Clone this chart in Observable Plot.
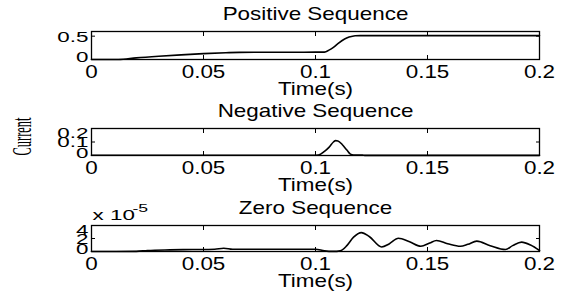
<!DOCTYPE html>
<html><head><meta charset="utf-8">
<script src="https://cdn.jsdelivr.net/npm/d3@7"></script>
<script src="https://cdn.jsdelivr.net/npm/@observablehq/plot@0.6"></script>
<style>
body{margin:0;background:#fff;}
#chart{position:relative;width:566px;height:296px;overflow:hidden;background:#fff;}
.panel{position:absolute;left:0;}
</style></head><body><div id="chart"></div>
<script>
// ---- data ----
const timeTicks = [0, 0.05, 0.1, 0.15, 0.2];
const titles = ["Positive Sequence", "Negative Sequence", "Zero Sequence"];
const xLabel = "Time(s)";
const yLabel = "Current";
const zeroExponent = ["x 10", "-5"];

const posTime    = [0, 0.012, 0.02, 0.03, 0.04, 0.05, 0.06, 0.066, 0.08, 0.09, 0.1, 0.104, 0.106, 0.108, 0.11, 0.113, 0.115, 0.1177, 0.12, 0.15, 0.2];
const posCurrent = [0, 0, 0.035, 0.07, 0.1, 0.125, 0.145, 0.153, 0.155, 0.156, 0.157, 0.158, 0.2, 0.26, 0.34, 0.44, 0.48, 0.51, 0.512, 0.512, 0.512];
const posYTicks  = [0, 0.5];

const negTime    = [0, 0.1, 0.1013, 0.104, 0.106, 0.108, 0.109, 0.110, 0.112, 0.114, 0.1156, 0.117, 0.121, 0.122, 0.2];
const negCurrent = [0.002, 0.002, 0.003, 0.03, 0.06, 0.1, 0.11, 0.108, 0.08, 0.04, 0.01, 0.004, 0.003, 0.001, 0.001];
const negYTicks  = [0, 0.1, 0.2];

// zero sequence in units of 1e-5
const zeroTime    = [0, 0.02, 0.025, 0.035, 0.045, 0.055, 0.059, 0.063, 0.075, 0.09, 0.1, 0.104, 0.108, 0.111, 0.114, 0.117, 0.1205, 0.124, 0.1295, 0.133, 0.137, 0.142, 0.147, 0.151, 0.154, 0.159, 0.1647, 0.168, 0.172, 0.178, 0.1848, 0.188, 0.192, 0.196, 0.2];
const zeroCurrent = [0, 0.02, 0.15, 0.25, 0.3, 0.35, 0.5, 0.35, 0.35, 0.35, 0.35, 0.1, 0.02, 0.1, 0.9, 2.2, 2.9, 2.3, 0.7, 1.2, 2.05, 1.5, 0.8, 1.3, 1.7, 1.2, 0.8, 1.1, 1.6, 0.9, 0.3, 0.9, 1.45, 1.0, 0.15];
const zeroYTicks  = [0, 2, 4];

// ---- drawing ----
const FONT = "'Liberation Sans', Arial, Helvetica, sans-serif";
const SERIF = "'Liberation Serif', 'Times New Roman', serif";
const chart = document.getElementById("chart");
const fmt = d => String(d);

function panel({time, values, yDomain, yTicks, topTickAtEdge, title, top, height, mTop, mBottom, extra = []}) {
  const data = time.map((t, i) => ({t, v: values[i]}));
  const bottomTick = yTicks.slice(0, 1);
  const middle = topTickAtEdge ? yTicks.slice(1, -1) : yTicks.slice(1);
  const edge = topTickAtEdge ? yTicks.slice(-1) : [];
  const yt = {frameAnchor: "left", textAnchor: "end", dx: -3, fontSize: 14};
  const svg = Plot.plot({
    width: 566, height,
    marginLeft: 91, marginRight: 27, marginTop: mTop, marginBottom: mBottom,
    style: {fontFamily: FONT, fontSize: "19px", color: "#000", background: "transparent", overflow: "visible"},
    x: {domain: [0, 0.2], label: null},
    y: {domain: yDomain, label: null},
    marks: [
      Plot.line(data, {x: "t", y: "v", stroke: "#000", strokeWidth: 1.6, curve: "monotone-x"}),
      Plot.frame({stroke: "#000", strokeWidth: 1.3}),
      Plot.axisX(timeTicks, {anchor: "bottom", tickSize: -4, tickPadding: 9, tickFormat: fmt, label: null, fontSize: 19}),
      Plot.axisX(timeTicks, {anchor: "top", tickSize: -4, tickFormat: () => "", label: null}),
      Plot.axisY(yTicks, {anchor: "left", tickSize: -4, tickFormat: () => "", label: null}),
      Plot.axisY(yTicks, {anchor: "right", tickSize: -4, tickFormat: () => "", label: null}),
      Plot.text(bottomTick, {y: d => d, text: fmt, ...yt, lineAnchor: "middle", dy: -2}),
      Plot.text(middle, {y: d => d, text: fmt, ...yt, lineAnchor: "middle", dy: 1}),
      Plot.text(edge, {y: d => d, text: fmt, ...yt, lineAnchor: "top"}),
      Plot.text([title], {text: d => d, frameAnchor: "top", lineAnchor: "middle", dy: -18, fontSize: 19}),
      Plot.text([xLabel], {text: d => d, frameAnchor: "bottom", lineAnchor: "middle", dy: 29, fontSize: 19}),
      ...extra
    ]
  });
  svg.classList.add("panel");
  svg.style.top = top + "px";
  chart.appendChild(svg);
  svg.querySelectorAll("text").forEach(t => {
    const L = t.getComputedTextLength();
    if (!(L > 0)) return;
    const fs = parseFloat(getComputedStyle(t).fontSize);
    let target;
    if (t.textContent === yLabel) target = 38;
    else if (fs < 16) target = L * 1.6;
    else target = L * 1.18;
    t.setAttribute("textLength", target);
    t.setAttribute("lengthAdjust", "spacingAndGlyphs");
  });
  return svg;
}

panel({time: posTime, values: posCurrent, yDomain: [0, 0.6], yTicks: posYTicks, topTickAtEdge: false, title: titles[0], top: 0, height: 100, mTop: 31, mBottom: 41});
panel({time: negTime, values: negCurrent, yDomain: [0, 0.2], yTicks: negYTicks, topTickAtEdge: true, title: titles[1], top: 96, height: 100, mTop: 32, mBottom: 41,
  extra: [Plot.text([yLabel], {text: d => d, frameAnchor: "left", textAnchor: "middle", lineAnchor: "middle", rotate: -90, dx: -69, dy: -5.5, fontFamily: SERIF, fontSize: 27})]});
panel({time: zeroTime, values: zeroCurrent, yDomain: [0, 4], yTicks: zeroYTicks, topTickAtEdge: true, title: titles[2], top: 192, height: 104, mTop: 33, mBottom: 45,
  extra: [
    Plot.text([zeroExponent[0]], {text: d => d, frameAnchor: "top-left", textAnchor: "start", lineAnchor: "middle", dx: 1, dy: -9.5, fontSize: 14}),
    Plot.text([zeroExponent[1]], {text: d => d, frameAnchor: "top-left", textAnchor: "start", lineAnchor: "middle", dx: 41, dy: -17.5, fontSize: 11})
  ]});
</script></body></html>
